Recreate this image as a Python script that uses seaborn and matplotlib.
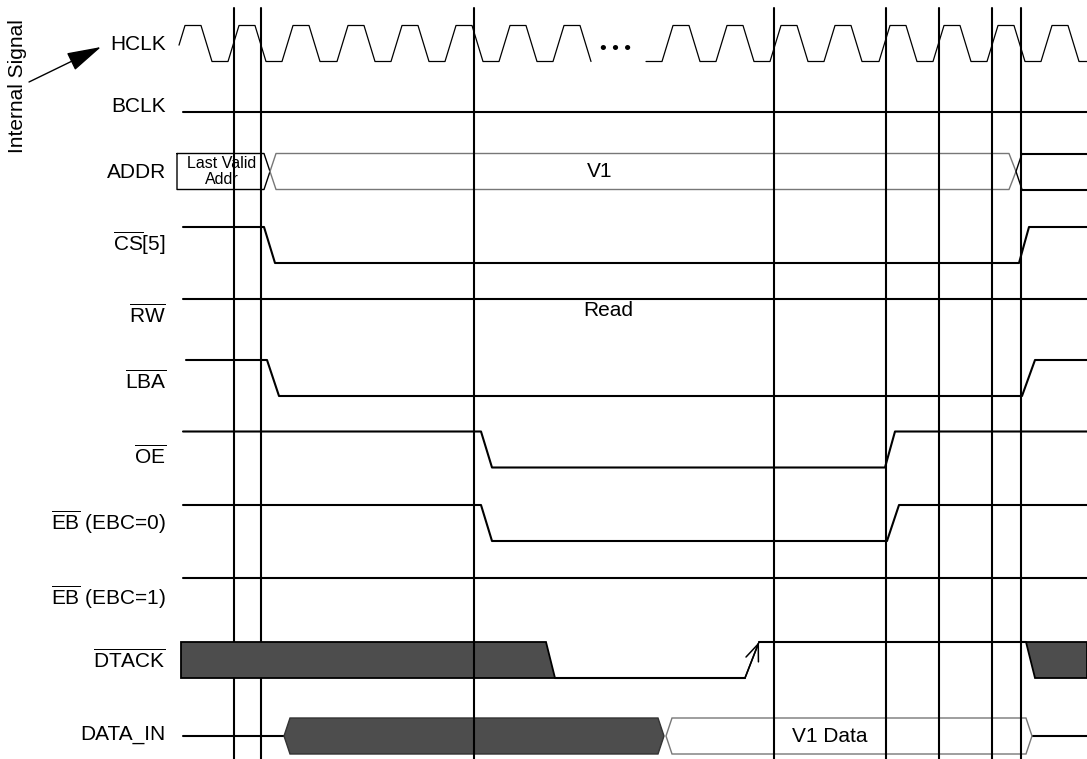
import numpy as np
import pandas as pd
import seaborn as sns
import matplotlib.pyplot as plt

# nombres de las señales
etiquetas = ["HCLK", "BCLK", "ADDR", r"$\overline{\mathrm{CS}}$[5]", r"$\overline{\mathrm{RW}}$",
             r"$\overline{\mathrm{LBA}}$", r"$\overline{\mathrm{OE}}$",
             r"$\overline{\mathrm{EB}}$ (EBC=0)", r"$\overline{\mathrm{EB}}$ (EBC=1)",
             r"$\overline{\mathrm{DTACK}}$", "DATA_IN"]

# eje de tiempo (unidades del diagrama), niveles: 1 alto, -1 bajo, 0 medio
marcas_t = [234, 261, 474, 774, 886, 939, 992, 1021]

hclk_altos_1 = [185, 239, 293, 348, 402, 456, 510, 564]
hclk_altos_2 = [673, 727, 781, 835, 890, 944, 998, 1052]
hclk_inicio, hclk_pausa, hclk_fin = 179, 646, 1087

bclk_t = [183, 1087]
bclk_v = [0, 0]
cs_t = [183, 264, 275, 1019, 1029, 1087]
cs_v = [1, 1, -1, -1, 1, 1]
rw_t = [183, 1087]
rw_v = [1, 1]
lba_t = [186, 267, 279, 1022, 1035, 1087]
lba_v = [1, 1, -1, -1, 1, 1]
oe_t = [183, 481, 492, 885, 895, 1087]
oe_v = [1, 1, -1, -1, 1, 1]
eb0_t = [183, 481, 492, 887, 899, 1087]
eb0_v = [1, 1, -1, -1, 1, 1]
eb1_t = [183, 1087]
eb1_v = [1, 1]
dtack_t = [555, 745]
dtack_v = [-1, -1]
dtack_sube_t = [745, 759]
dtack_sube_v = [-1, 1]
dtack_alto_t = [759, 1026]
dtack_alto_v = [1, 1]
datain_t1 = [183, 284]
datain_t2 = [1032, 1087]

# buses (vértices tiempo / nivel)
addr_ant_t = [177, 264, 270, 264, 177, 177]
addr_ant_v = [1, 1, 0, -1, -1, 1]
addr_v1_t = [270, 276, 1009, 1016, 1009, 276, 270]
addr_v1_v = [0, 1, 1, 0, -1, -1, 0]
addr_sig_t = [1087, 1022, 1016, 1022, 1087]
addr_sig_v = [1, 1, 0, -1, -1]
dtack_caja1_t = [181, 546, 555, 181]
dtack_caja1_v = [1, 1, -1, -1]
dtack_caja2_t = [1087, 1026, 1035, 1087]
dtack_caja2_v = [1, 1, -1, -1]
datain_caja1_t = [284, 290, 658, 664, 658, 290]
datain_caja1_v = [0, 1, 1, 0, -1, -1]
datain_caja2_t = [666, 672, 1026, 1032, 1026, 672]
datain_caja2_v = [0, 1, 1, 0, -1, -1]

# ---- disposición ----
fila_y = [43.5, 112, 171.5, 245, 317, 378, 449.5, 523, 596, 660, 736]
etiqueta_y = [45, 106, 173, 243, 315, 381, 456, 522, 597, 660, 734]
A = 18

sns.set_theme(style="white")
plt.rcParams['font.family'] = ['Liberation Sans', 'DejaVu Sans']
plt.rcParams['mathtext.fontset'] = 'custom'
plt.rcParams['mathtext.rm'] = 'Liberation Sans'
plt.rcParams['text.color'] = 'black'

fig = plt.figure(figsize=(10.87, 7.59), dpi=100)
ax = fig.add_axes([0, 0, 1, 1])


def a_y(fila, v):
    return [fila_y[fila] - A * n for n in v]


def reloj(altos):
    t, v = [], []
    for h in altos:
        t += [h - 11, h, h + 16, h + 27]
        v += [-1, 1, 1, -1]
    return t, v


# HCLK
t1, v1 = reloj(hclk_altos_1)
v0 = np.interp(hclk_inicio, t1[:2], v1[:2])
t1 = [hclk_inicio] + t1[1:]
v1 = [v0] + v1[1:]
t2, v2 = reloj(hclk_altos_2)
t2 = [hclk_pausa] + t2 + [hclk_fin]
v2 = [-1] + v2 + [-1]
reloj_df = pd.concat([
    pd.DataFrame({"t": t1, "y": a_y(0, v1), "seg": 0}),
    pd.DataFrame({"t": t2, "y": a_y(0, v2), "seg": 1}),
])
sns.lineplot(data=reloj_df, x="t", y="y", units="seg", estimator=None, sort=False,
             color="black", linewidth=0.9, ax=ax, legend=False)

# señales digitales
tramos = [(1, bclk_t, bclk_v), (3, cs_t, cs_v), (4, rw_t, rw_v), (5, lba_t, lba_v),
          (6, oe_t, oe_v), (7, eb0_t, eb0_v), (8, eb1_t, eb1_v), (9, dtack_t, dtack_v),
          (9, dtack_alto_t, dtack_alto_v), (10, datain_t1, [0, 0]), (10, datain_t2, [0, 0]),
          (2, addr_sig_t[:2], addr_sig_v[:2]), (2, addr_sig_t[3:], addr_sig_v[3:])]
filas = []
for i, (f, t, v) in enumerate(tramos):
    filas.append(pd.DataFrame({"t": t, "y": a_y(f, v), "seg": i}))
senales = pd.concat(filas, ignore_index=True)
sns.lineplot(data=senales, x="t", y="y", units="seg", estimator=None, sort=False,
             color="black", linewidth=1.5, ax=ax, legend=False)

# flanco de DTACK con flecha
ax.plot(dtack_sube_t, a_y(9, dtack_sube_v), color="black", lw=1.1)
ax.annotate("", xy=(dtack_sube_t[1], a_y(9, dtack_sube_v)[1]),
            xytext=(dtack_sube_t[0], a_y(9, dtack_sube_v)[0]),
            arrowprops=dict(arrowstyle="->,head_length=1.0,head_width=0.4", color="black", lw=1.1,
                            shrinkA=0, shrinkB=0))

# ADDR
ax.plot(addr_ant_t, a_y(2, addr_ant_v), color="black", lw=1.0, zorder=3)
ax.plot(addr_v1_t, a_y(2, addr_v1_v), color="#777777", lw=1.0, zorder=3)
ax.plot(addr_sig_t[1:4], a_y(2, addr_sig_v[1:4]), color="black", lw=1.0, zorder=3)
ax.text(222, fila_y[2], "Last Valid\nAddr", ha="center", va="center", fontsize=11.5,
        linespacing=1.1, zorder=6)
ax.text(600, fila_y[2], "V1", ha="center", va="center", fontsize=15, zorder=6)
ax.text(608, 310, "Read", ha="center", va="center", fontsize=15)

# cajas oscuras
ax.fill(dtack_caja1_t, a_y(9, dtack_caja1_v), facecolor="#4d4d4d", edgecolor="black", lw=1.3, zorder=4)
ax.fill(dtack_caja2_t, a_y(9, dtack_caja2_v), facecolor="#4d4d4d", edgecolor="black", lw=1.3, zorder=4)
ax.fill(datain_caja1_t, a_y(10, datain_caja1_v), facecolor="#4d4d4d", edgecolor="#333333", lw=1.0, zorder=4)
ax.fill(datain_caja2_t, a_y(10, datain_caja2_v), facecolor="white", edgecolor="#777777", lw=1.0, zorder=4)
ax.text(830, fila_y[10], "V1 Data", ha="center", va="center", fontsize=15, zorder=6)

# puntos suspensivos del reloj
ax.text(615, 49, "• • •", ha="center", va="center", fontsize=14)

# marcas verticales
for x in marcas_t:
    ax.plot([x, x], [8, 759], color="black", lw=1.5, zorder=3 if x < 474 else 5)

# etiquetas
for txt, y in zip(etiquetas, etiqueta_y):
    ax.text(166, y, txt, ha="right", va="center", fontsize=15)

ax.text(18, 86, "Internal Signal", rotation=90, ha="center", va="center", fontsize=15)
ax.annotate("", xy=(101, 47), xytext=(29, 82),
            arrowprops=dict(arrowstyle="-|>,head_length=1.8,head_width=0.5", color="black", lw=1.0,
                            shrinkA=0, shrinkB=0))

ax.set_xlim(0, 1087)
ax.set_ylim(759, 0)
ax.axis("off")
fig.savefig("out.png", dpi=100)
